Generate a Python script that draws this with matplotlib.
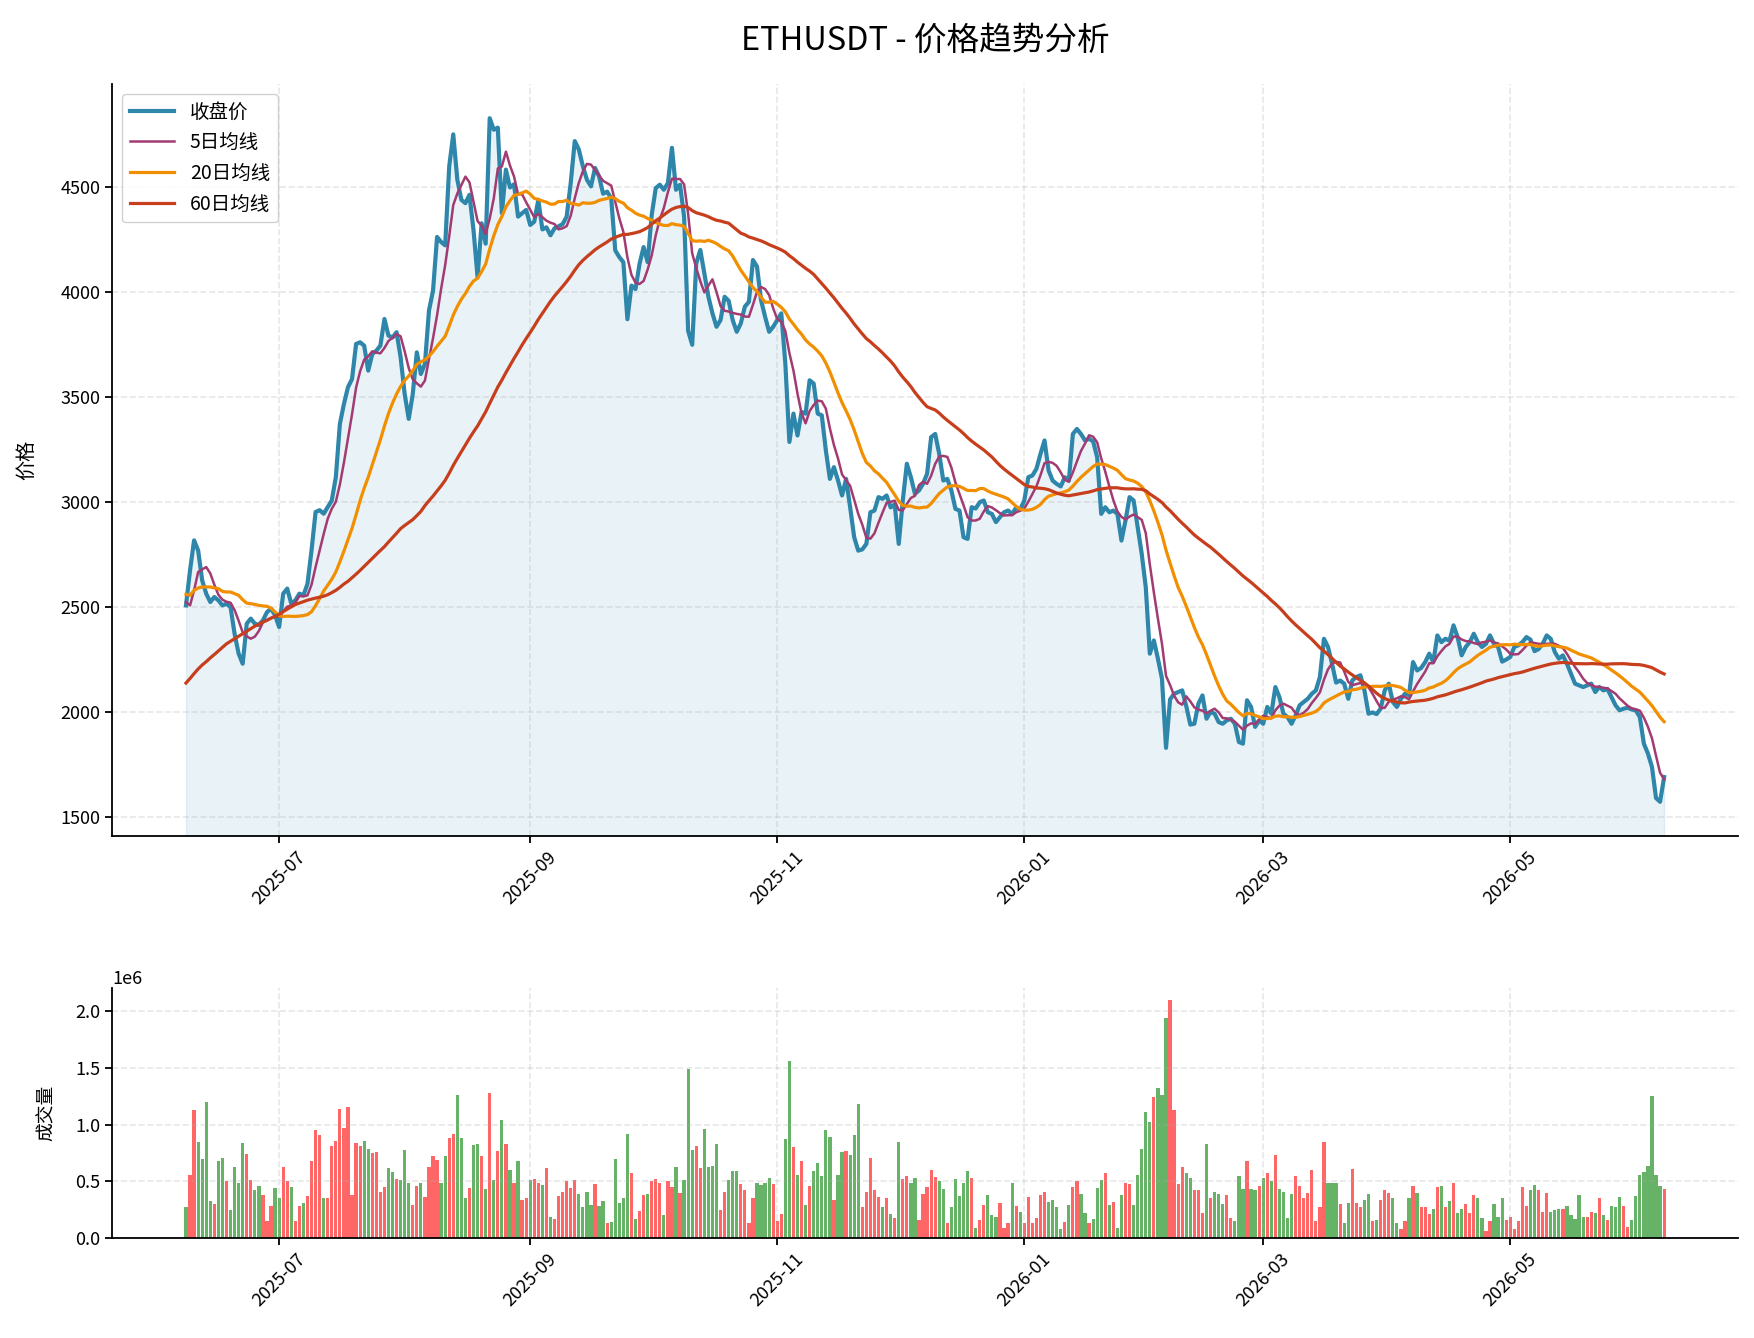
import numpy as np
import pandas as pd
import matplotlib
matplotlib.use('Agg')
import matplotlib.pyplot as plt
import matplotlib.dates as mdates

plt.rcParams['font.family'] = ['Noto Sans CJK SC', 'DejaVu Sans']
plt.rcParams['axes.unicode_minus'] = False

# daily closes, 2025-06-08 .. 2026-06-08
close = [
    2508, 2675, 2818, 2770, 2627, 2564, 2524, 2548, 2532, 2508,
    2516, 2500, 2373, 2278, 2230, 2421, 2445, 2421, 2415, 2437,
    2476, 2492, 2461, 2405, 2564, 2588, 2516, 2532, 2564, 2556,
    2611, 2770, 2953, 2962, 2945, 2976, 3008, 3119, 3373, 3468,
    3548, 3587, 3754, 3762, 3746, 3627, 3706, 3722, 3746, 3873,
    3794, 3785, 3810, 3690, 3516, 3397, 3516, 3714, 3611, 3659,
    3913, 4008, 4264, 4240, 4224, 4601, 4753, 4537, 4441, 4425,
    4465, 4296, 4072, 4329, 4232, 4830, 4775, 4785, 4377, 4585,
    4500, 4515, 4361, 4377, 4393, 4321, 4337, 4441, 4300, 4310,
    4272, 4305, 4315, 4325, 4361, 4521, 4721, 4681, 4601, 4537,
    4505, 4593, 4553, 4470, 4480, 4449, 4200, 4168, 4144, 3872,
    4032, 4016, 4136, 4216, 4144, 4369, 4497, 4513, 4489, 4521,
    4689, 4489, 4513, 4361, 3816, 3750, 4139, 4202, 4091, 3979,
    3900, 3836, 3868, 3979, 3960, 3868, 3812, 3852, 3932, 3955,
    4154, 4123, 3963, 3884, 3812, 3836, 3868, 3900, 3661, 3287,
    3422, 3318, 3430, 3422, 3581, 3565, 3422, 3414, 3247, 3111,
    3167, 3104, 3032, 3111, 2976, 2833, 2769, 2775, 2801, 2952,
    2960, 3024, 3016, 3032, 2975, 2990, 2801, 3008, 3183, 3119,
    3040, 3056, 3088, 3135, 3310, 3325, 3230, 3103, 3111, 3056,
    2968, 2960, 2833, 2825, 2976, 2970, 3000, 3008, 2952, 2944,
    2905, 2929, 2952, 2960, 2944, 2975, 2965, 3008, 3119, 3127,
    3159, 3230, 3294, 3151, 3103, 3087, 3075, 3119, 3103, 3325,
    3349, 3325, 3294, 3302, 3290, 3214, 2944, 2976, 2952, 2960,
    2944, 2817, 2913, 3024, 3008, 2881, 2754, 2595, 2278, 2341,
    2254, 2159, 1829, 2060, 2087, 2095, 2103, 2028, 1940, 1944,
    2040, 2079, 1968, 2000, 1992, 1952, 1944, 1960, 1968, 1944,
    1857, 1849, 2056, 2024, 1929, 1960, 1944, 2024, 1992, 2119,
    2071, 1992, 1976, 1944, 1984, 2032, 2048, 2063, 2087, 2103,
    2167, 2349, 2310, 2230, 2140, 2150, 2135, 2063, 2151, 2167,
    2175, 2103, 1992, 1998, 1990, 2016, 2103, 2135, 2048, 2024,
    2063, 2087, 2080, 2238, 2198, 2210, 2238, 2278, 2238, 2365,
    2333, 2349, 2340, 2413, 2357, 2270, 2310, 2333, 2373, 2333,
    2310, 2325, 2365, 2325, 2310, 2240, 2250, 2262, 2310, 2318,
    2333, 2357, 2345, 2290, 2300, 2325, 2365, 2349, 2286, 2254,
    2270, 2230, 2183, 2135, 2127, 2119, 2127, 2135, 2095, 2119,
    2103, 2110, 2071, 2032, 2008, 2016, 2020, 2012, 2008, 1976,
    1849, 1802, 1738, 1590, 1572, 1690,
]

# daily volume, millions
volume_m = [
    .27, .56, 1.13, .85, .70, 1.20, .33, .30, .68, .71,
    .50, .25, .63, .49, .84, .74, .51, .42, .46, .38,
    .15, .28, .44, .35, .63, .50, .45, .15, .28, .31,
    .37, .68, .95, .91, .35, .35, .81, .86, 1.14, .97,
    1.16, .38, .84, .81, .86, .79, .75, .76, .41, .45,
    .62, .58, .52, .51, .78, .49, .29, .46, .49, .36,
    .63, .72, .69, .49, .72, .88, .92, 1.26, .88, .35,
    .44, .82, .83, .72, .43, 1.28, .51, .77, 1.04, .83,
    .60, .49, .68, .34, .35, .51, .52, .49, .47, .62,
    .19, .17, .37, .41, .50, .44, .51, .39, .27, .41,
    .29, .48, .28, .33, .13, .14, .70, .31, .35, .92,
    .57, .17, .24, .38, .39, .50, .52, .49, .20, .50,
    .45, .63, .40, .51, 1.49, .78, .81, .62, .96, .63,
    .64, .83, .25, .41, .51, .59, .59, .48, .42, .13,
    .35, .49, .47, .49, .53, .48, .15, .21, .87, 1.56,
    .80, .56, .68, .29, .46, .59, .66, .55, .95, .89,
    .34, .56, .76, .77, .73, .91, 1.18, .27, .41, .71,
    .42, .36, .27, .35, .21, .18, .85, .52, .55, .49,
    .53, .16, .39, .45, .60, .54, .50, .43, .13, .27,
    .52, .37, .49, .59, .53, .09, .16, .29, .38, .20,
    .19, .31, .09, .13, .49, .28, .23, .13, .36, .13,
    .18, .38, .41, .32, .34, .27, .08, .14, .29, .45,
    .50, .39, .22, .13, .17, .44, .51, .57, .29, .32,
    .09, .38, .49, .48, .29, .56, .79, 1.11, 1.02, 1.24,
    1.32, 1.26, 1.94, 2.10, 1.13, .48, .63, .57, .53, .42,
    .42, .22, .83, .35, .41, .39, .30, .38, .18, .15,
    .55, .43, .68, .43, .42, .46, .53, .57, .50, .73,
    .43, .41, .18, .39, .55, .46, .35, .40, .60, .15,
    .27, .85, .49, .49, .49, .30, .13, .31, .61, .31,
    .27, .34, .39, .15, .16, .34, .42, .40, .35, .13,
    .08, .15, .35, .46, .40, .27, .27, .21, .26, .45,
    .46, .27, .33, .49, .22, .26, .30, .22, .38, .35,
    .18, .06, .15, .30, .19, .35, .16, .19, .08, .15,
    .45, .28, .42, .47, .42, .23, .40, .23, .25, .26,
    .26, .28, .20, .17, .38, .19, .19, .23, .22, .35,
    .20, .16, .28, .27, .36, .28, .10, .16, .37, .56,
    .58, .64, 1.25, .56, .46, .43,
]

# moving-average values at the start of the window (history before 2025-06-08)
ma5_head = [2524, 2508, 2580, 2667]
ma20_head = [2561, 2556, 2580, 2591, 2596, 2596, 2596, 2591, 2588, 2575,
             2572, 2572, 2564, 2556, 2535, 2519, 2516, 2513, 2508]
ma60_head = [2138, 2160, 2183, 2205, 2224, 2240, 2258, 2274, 2291, 2308,
             2325, 2337, 2349, 2361, 2373, 2385, 2397, 2409, 2418, 2428,
             2437, 2447, 2456, 2466, 2478, 2490, 2501, 2512, 2519, 2526,
             2533, 2538, 2543, 2547, 2552, 2559, 2569, 2580, 2594, 2610,
             2623, 2640, 2657, 2675, 2694, 2713, 2732, 2751, 2770, 2788,
             2810, 2831, 2852, 2874, 2889, 2903, 2917, 2936, 2956]

dates = pd.date_range('2025-06-08', '2026-06-08', freq='D')
close = np.array(close, dtype=float)
volume = np.array(volume_m) * 1e6

s = pd.Series(close)
ma5 = s.rolling(5).mean().values
ma5[:len(ma5_head)] = ma5_head
ma20 = s.rolling(20).mean().values
ma20[:len(ma20_head)] = ma20_head
ma60 = s.rolling(60).mean().values
ma60[:len(ma60_head)] = ma60_head

up = np.r_[False, np.diff(close) > 0]
bar_colors = np.where(up, 'red', 'green')

fig = plt.figure(figsize=(17.54, 13.38), dpi=100)
ax1 = fig.add_axes([0.0639, 0.3752, 0.927, 0.5620])
ax2 = fig.add_axes([0.0639, 0.0747, 0.927, 0.1868])

ax1.plot(dates, close, color='#2E86AB', lw=3.0, label='收盘价')
ax1.plot(dates, ma5, color='#A23B72', lw=1.8, label='5日均线')
ax1.plot(dates, ma20, color='#F18F01', lw=2.3, label='20日均线')
ax1.plot(dates, ma60, color='#C73E1D', lw=2.3, label='60日均线')
ax1.fill_between(dates, close, 0, color='#2E86AB', alpha=0.1)
lo, hi = close.min(), close.max()
pad = (hi - lo) * 0.05
ax1.set_ylim(lo - pad, hi + pad)

ax1.set_title('ETHUSDT - 价格趋势分析', fontsize=23.5, pad=25)
ax1.set_ylabel('价格', fontsize=14.5)
ax1.yaxis.set_label_coords(-0.046, 0.5)
ax1.legend(loc='upper left', fontsize=14, handlelength=2.3, framealpha=0.9)

ax2.bar(dates, volume, width=0.8, color=bar_colors, alpha=0.6)
ax2.set_ylabel('成交量', fontsize=13.5)
ax2.yaxis.set_label_coords(-0.034, 0.5)
ax2.set_xlim(ax1.get_xlim())

for ax in (ax1, ax2):
    ax.grid(True, linestyle='--', alpha=0.3, lw=1.2)
    ax.spines['top'].set_visible(False)
    ax.spines['right'].set_visible(False)
    ax.spines['left'].set_linewidth(1.3)
    ax.spines['bottom'].set_linewidth(1.3)
    ax.xaxis.set_major_locator(mdates.MonthLocator(bymonth=[1, 3, 5, 7, 9, 11]))
    ax.xaxis.set_major_formatter(mdates.DateFormatter('%Y-%m'))
    ax.tick_params(labelsize=13, width=1.3, length=5)
    ax.yaxis.get_offset_text().set_fontsize(13)
    for lab in ax.get_xticklabels():
        lab.set_rotation(45)

fig.savefig('out.png', dpi=100)
